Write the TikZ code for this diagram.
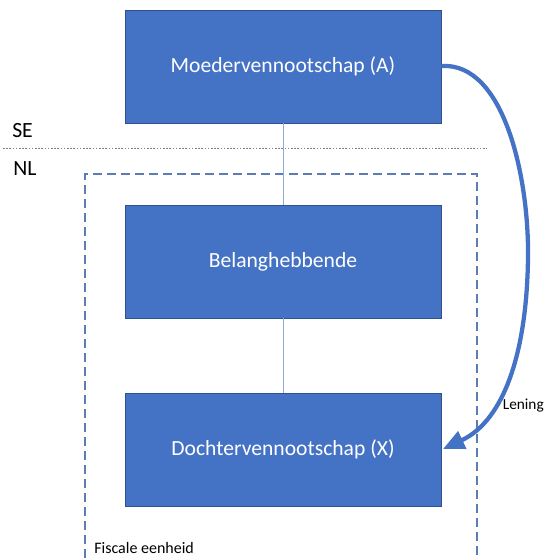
\documentclass[tikz,border=0pt]{standalone}
\usepackage{fontspec}
\setmainfont{Carlito}
\usetikzlibrary{arrows.meta}
\definecolor{boxblue}{HTML}{4472C4}
\definecolor{boxedge}{HTML}{2F528F}
\definecolor{linkline}{HTML}{8FAADC}
\definecolor{dashblue}{HTML}{5B7DB5}
\tikzset{
  entity/.style={draw=boxedge, line width=0.6pt, fill=boxblue, text=white,
    minimum width=316*0.75pt, minimum height=113*0.75pt, inner sep=0pt,
    font=\fontsize{16.2}{19}\selectfont},
  link/.style={draw=linkline, line width=0.6pt},
  zone/.style={font=\fontsize{16.3}{19}\selectfont, anchor=west, inner sep=0pt},
  small/.style={font=\fontsize{12}{14}\selectfont, anchor=west, inner sep=0pt},
}
\begin{document}
\begin{tikzpicture}[x=0.75pt,y=-0.75pt]
\useasboundingbox (0,0) rectangle (546,560);
% fiscal unit dashed rectangle
\draw[dashblue, line width=0.9pt, dash pattern=on 7pt off 3.5pt]
  (85,600) -- (85,174) -- (477,174) -- (477,600);
\node[small] (fe) at (94,548) {Fiscale eenheid};
% dotted border
\draw[gray, line width=0.4pt, dash pattern=on 1.2pt off 1.2pt] (3,148) -- (487,148);
\node[zone] (se) at (12,131) {SE};
\node[zone] (nl) at (13,169) {NL};
% boxes
\node[entity] (a) at (283,66.5) {Moedervennootschap (A)};
\node[entity] (b) at (283,261.5) {Belanghebbende};
\node[entity] (x) at (283,449.5) {Dochtervennootschap (X)};
\draw[link] (a.south) -- (b.north);
\draw[link] (b.south) -- (x.north);
% loan arrow
\coordinate (mid) at (528,257);
\draw[boxblue, line width=3.2pt, -{Triangle[length=16pt,width=14pt]}]
  (a.east |- 0,66) .. controls (505,62) and (529,180) .. (mid)
  .. controls (527,350) and (505,420) .. (443,449);
\node[small, anchor=east, font=\fontsize{11.5}{13}\selectfont] (lening) at (544,406) {Lening};
\end{tikzpicture}
\end{document}
